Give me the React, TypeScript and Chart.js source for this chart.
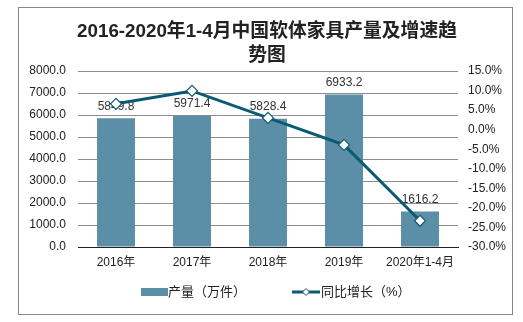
import React, { useEffect, useRef } from "react";
import { Chart, registerables } from "chart.js";

Chart.register(...registerables);

const categories = ["2016年", "2017年", "2018年", "2019年", "2020年1-4月"];
const output = [5849.8, 5971.4, 5828.4, 6933.2, 1616.2];
const growth = [6.6, 9.9, 3.0, -3.9, -23.3];
const titleLines = ["2016-2020年1-4月中国软体家具产量及增速趋", "势图"];
const legendBar = "产量（万件）";
const legendLine = "同比增长（%）";

const FONT = "'Liberation Sans', Arial, 'Noto Sans CJK SC', sans-serif";
const BAR_COLOR = "#5b8fa7";
const LINE_COLOR = "#0b5a72";

export default function App() {
  const ref = useRef<HTMLCanvasElement | null>(null);
  useEffect(() => {
    if (!ref.current) return;
    const overlay = {
      id: "overlay",
      afterDatasetDraw(chart: any, args: any) {
        if (args.index !== 0) return;
        const ctx = chart.ctx;
        const meta = chart.getDatasetMeta(0);
        ctx.save();
        ctx.font = `12px ${FONT}`;
        ctx.fillStyle = "#333";
        ctx.textAlign = "center";
        ctx.textBaseline = "bottom";
        meta.data.forEach((el: any, i: number) => {
          ctx.fillText(output[i].toFixed(1), el.x, el.y - 6);
        });
        ctx.restore();
      },
      afterDraw(chart: any) {
        const ctx = chart.ctx;
        ctx.save();
        // title
        ctx.fillStyle = "#222";
        ctx.font = `bold 18.8px ${FONT}`;
        ctx.textAlign = "center";
        ctx.textBaseline = "middle";
        ctx.fillText(titleLines[0], 267, 32);
        ctx.fillText(titleLines[1], 267, 56);
        // legend
        ctx.fillStyle = BAR_COLOR;
        ctx.fillRect(141, 288, 27, 8);
        ctx.font = `13px ${FONT}`;
        ctx.fillStyle = "#222";
        ctx.textAlign = "left";
        ctx.fillText(legendBar, 168, 292);
        ctx.strokeStyle = LINE_COLOR;
        ctx.lineWidth = 3;
        ctx.beginPath();
        ctx.moveTo(292, 292);
        ctx.lineTo(320, 292);
        ctx.stroke();
        ctx.fillStyle = "#fff";
        ctx.lineWidth = 1;
        ctx.beginPath();
        ctx.moveTo(306, 288.5);
        ctx.lineTo(309.5, 292);
        ctx.lineTo(306, 295.5);
        ctx.lineTo(302.5, 292);
        ctx.closePath();
        ctx.fill();
        ctx.stroke();
        ctx.fillStyle = "#222";
        ctx.fillText(legendLine, 321, 292);
        ctx.restore();
      },
    };
    const chart = new Chart(ref.current, {
      type: "bar",
      data: {
        labels: categories,
        datasets: [
          {
            type: "bar",
            data: output,
            backgroundColor: BAR_COLOR,
            barPercentage: 0.5,
            categoryPercentage: 1,
            yAxisID: "y",
            order: 1,
          },
          {
            type: "line",
            data: growth,
            borderColor: LINE_COLOR,
            borderWidth: 3,
            pointStyle: "rectRot",
            pointRadius: 5.5,
            pointBackgroundColor: "#fff",
            pointBorderColor: LINE_COLOR,
            pointBorderWidth: 1.2,
            yAxisID: "y1",
            order: 0,
          } as any,
        ],
      },
      options: {
        responsive: false,
        animation: false,
        layout: { padding: { top: 71, left: 0, right: 0, bottom: 0 } },
        plugins: { legend: { display: false }, title: { display: false }, tooltip: { enabled: false } },
        scales: {
          x: {
            grid: { display: false, drawTicks: false },
            border: { color: "#222", width: 1 },
            ticks: { font: { size: 12, family: FONT }, color: "#222", padding: 8, maxRotation: 0 },
            afterFit: (s: any) => { s.height = 75; },
          },
          y: {
            position: "left",
            min: 0,
            max: 8000,
            grid: { color: "#8c8c8c", drawTicks: false },
            border: { display: false },
            ticks: {
              stepSize: 1000,
              font: { size: 12, family: FONT },
              color: "#222",
              padding: 12,
              callback: (v: any) => Number(v).toFixed(1),
            },
            afterFit: (s: any) => { s.width = 78; },
          },
          y1: {
            position: "right",
            min: -30,
            max: 15,
            grid: { display: false, drawTicks: false },
            border: { display: false },
            ticks: {
              stepSize: 5,
              font: { size: 12, family: FONT },
              color: "#222",
              padding: 10,
              callback: (v: any) => Number(v).toFixed(1) + "%",
            },
            afterFit: (s: any) => { s.width = 65; },
          },
        },
      },
      plugins: [overlay],
    });
    return () => chart.destroy();
  }, []);
  return (
    <div style={{ position: "absolute", left: 0, top: 0, width: 523, height: 322, background: "#fff" }}>
      <div style={{ position: "absolute", left: 18, top: 7, width: 493, height: 306, border: "1px solid #888" }} />
      <canvas ref={ref} width={523} height={322} style={{ position: "absolute", left: 0, top: 0, width: 523, height: 322 }} />
    </div>
  );
}
